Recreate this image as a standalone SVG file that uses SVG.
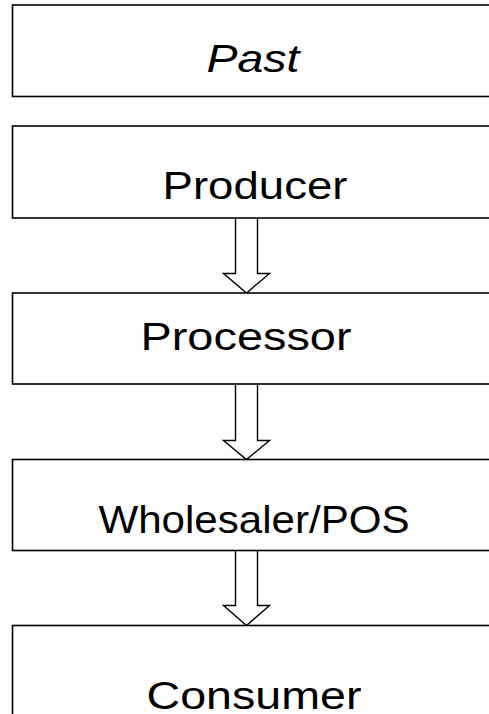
<svg xmlns="http://www.w3.org/2000/svg" width="489" height="714" viewBox="0 0 489 714">
<style>
.box{fill:#fff;stroke:#000;stroke-width:1.6}
.arrow{fill:#fff;stroke:#000;stroke-width:1.4;stroke-linejoin:miter}
.lbl{font-family:"Liberation Sans",Arial,sans-serif;font-size:39px;fill:#000;text-anchor:middle}
</style>
<rect width="489" height="714" fill="#fff"/>
<g id="connectors">
<path class="arrow" d="M235.5,218 V273.5 H223.5 L246.5,293 L269.5,273.5 H257.5 V218"/>
<path class="arrow" d="M235.5,384 V440.5 H223.5 L246.5,459.5 L269.5,440.5 H257.5 V384"/>
<path class="arrow" d="M235.5,550.5 V605.5 H223.5 L246.5,625.5 L269.5,605.5 H257.5 V550.5"/>
</g>
<g id="past">
<rect class="box" x="12.5" y="5" width="490" height="91.5"/>
<text class="lbl" x="253" y="71.5" font-style="italic" textLength="93" lengthAdjust="spacingAndGlyphs">Past</text>
</g>
<g id="producer">
<rect class="box" x="12.5" y="126" width="490" height="92"/>
<text class="lbl" x="255" y="199" textLength="185" lengthAdjust="spacingAndGlyphs">Producer</text>
</g>
<g id="processor">
<rect class="box" x="12.5" y="293" width="490" height="91"/>
<text class="lbl" x="246" y="349.5" textLength="211" lengthAdjust="spacingAndGlyphs">Processor</text>
</g>
<g id="wholesaler">
<rect class="box" x="12.5" y="459.5" width="490" height="91"/>
<text class="lbl" x="254" y="532.5" font-size="37" textLength="311" lengthAdjust="spacingAndGlyphs">Wholesaler/POS</text>
</g>
<g id="consumer">
<rect class="box" x="12.5" y="625.5" width="490" height="110"/>
<text class="lbl" x="254" y="708.5" textLength="215" lengthAdjust="spacingAndGlyphs">Consumer</text>
</g>
</svg>
